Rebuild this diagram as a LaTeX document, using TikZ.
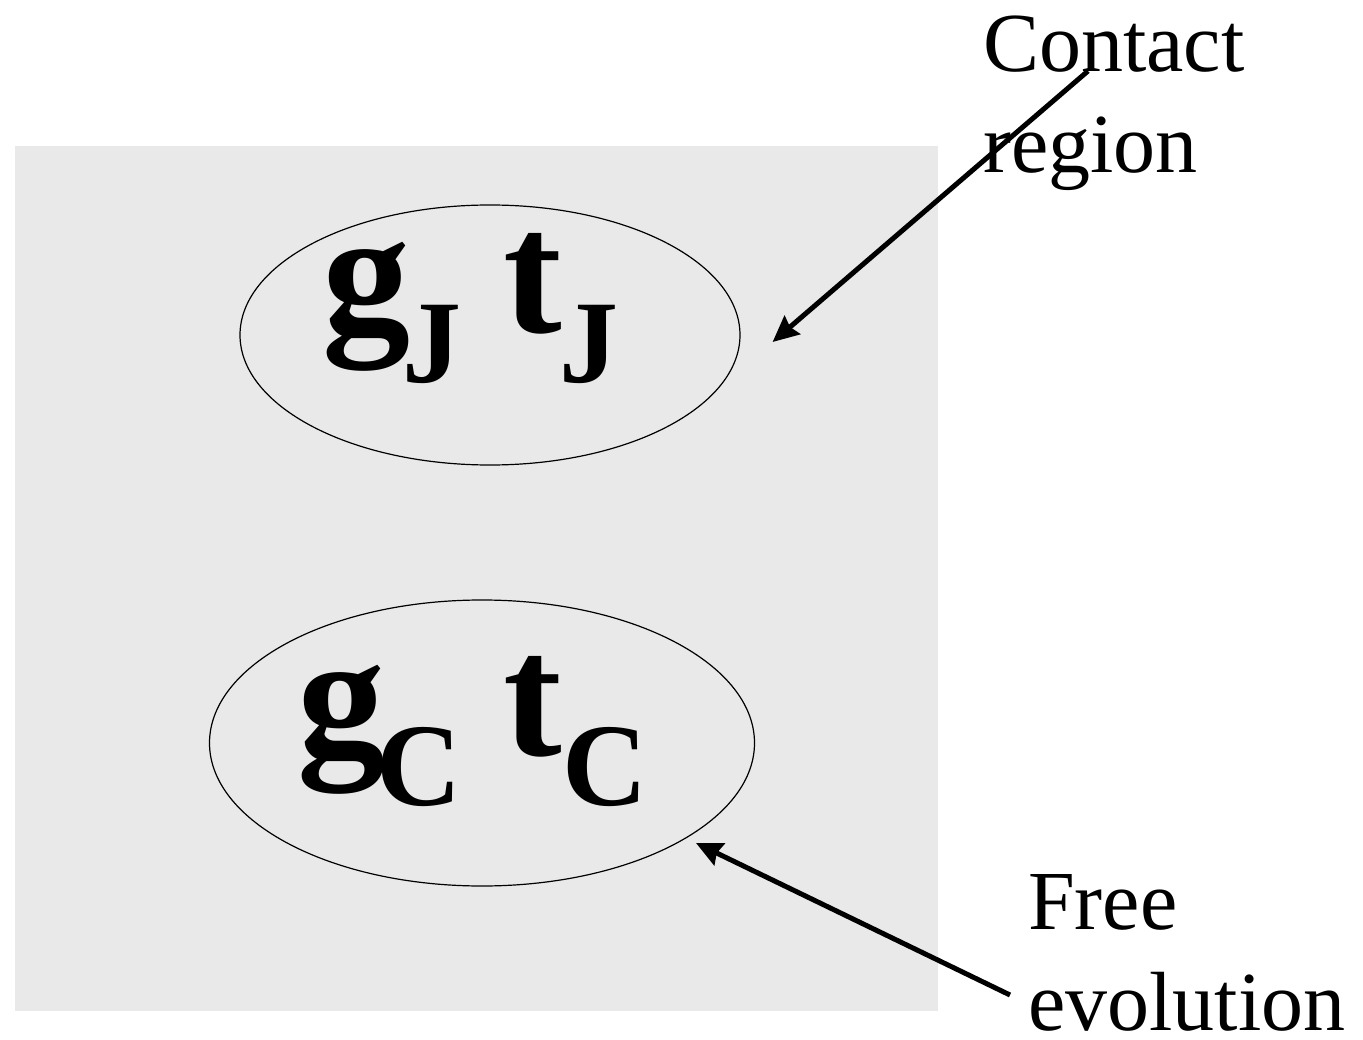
\documentclass[tikz,border=0pt]{standalone}
\usepackage{fontspec}
\setmainfont{Liberation Serif}
\usetikzlibrary{arrows.meta, shapes.geometric, positioning}
\definecolor{panel}{HTML}{E9E9E9}
% lowered index for the big symbols
\newcommand{\lowidx}[1]{\raisebox{-50pt}{\fontsize{118}{118}\selectfont #1}}

\begin{document}
\begin{tikzpicture}[x=1pt, y=-1pt,
  region/.style={ellipse, draw, line width=1.2pt, inner sep=0pt},
  sym/.style={inner sep=0pt, anchor=base west,
              font=\fontsize{176}{200}\selectfont\bfseries},
  note/.style={inner sep=0pt, anchor=north west, align=left,
               font=\fontsize{84}{101}\selectfont},
  pointer/.style={-{Stealth[length=26pt,width=24pt,inset=3pt]}, line width=5pt}]
  \useasboundingbox (0,0) rectangle (1363,1040);
  \fill[panel] (15,146) rectangle (938,1011);
  % contact region and free evolution
  \node[region, minimum width=500pt, minimum height=260pt] (J) at (490,335) {};
  \node[region, minimum width=545pt, minimum height=286pt] (C) at (482,743) {};
  \node[sym] (gtJ) at (322,333) {g\kern-8pt\lowidx{J}\hspace{42pt}t\kern-2pt\lowidx{J}};
  \node[sym] (gtC) at (297,755) {g\kern-9pt\lowidx{C}\hspace{42pt}t\lowidx{C}};
  % labels
  \node[note] (contact) at (983,16) {Contact\\region};
  \node[note] (free) at (1028,874) {Free\\evolution};
  \coordinate (contact tail) at (1088,71);
  \coordinate (free tail) at (1010,995);
  \draw[pointer] (contact tail) -- ([shift={(32,7)}]J.east);
  \draw[pointer] (free tail) -- ([shift={(214,100)}]C.center);
\end{tikzpicture}
\end{document}
